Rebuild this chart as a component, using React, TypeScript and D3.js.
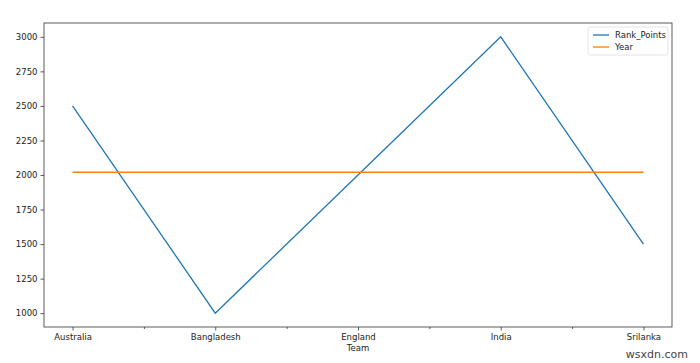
import React, { useEffect, useRef } from 'react';
import * as d3 from 'd3';

const teams = ['Australia', 'Bangladesh', 'England', 'India', 'Srilanka'];
const rankPoints = [2500, 1000, 2000, 3000, 1500];
const years = [2020, 2020, 2020, 2020, 2020];
const yTicks = [1000, 1250, 1500, 1750, 2000, 2250, 2500, 2750, 3000];

const W = 700;
const H = 363;
const margin = { top: 23, right: 28, bottom: 36, left: 44 };

const App: React.FC = () => {
  const svgRef = useRef<SVGSVGElement>(null);

  useEffect(() => {
    if (!svgRef.current) return;
    const svg = d3.select(svgRef.current);
    svg.selectAll('*').remove();

    const w = W - margin.left - margin.right;
    const h = H - margin.top - margin.bottom;
    const font = 'DejaVu Sans, sans-serif';

    const x = d3.scaleLinear().domain([-0.2, teams.length - 1 + 0.2]).range([0, w]);
    const y = d3.scaleLinear().domain([900, 3100]).range([h, 0]);

    const g = svg.append('g').attr('transform', `translate(${margin.left},${margin.top})`);

    // major ticks + labels on the x axis
    const xAxis = g.append('g').attr('transform', `translate(0,${h})`)
      .call(d3.axisBottom(x).tickValues(teams.map((_, i) => i)).tickSize(3.5).tickPadding(3)
        .tickFormat((d) => teams[d as number]));
    // minor ticks at the halves
    g.append('g').attr('transform', `translate(0,${h})`)
      .call(d3.axisBottom(x).tickValues(d3.range(0.5, teams.length - 1, 1)).tickSize(2).tickFormat(() => ''))
      .call((s) => s.select('.domain').remove())
      .call((s) => s.selectAll('line').attr('stroke', '#333').attr('stroke-width', 0.8));

    const yAxis = g.append('g')
      .call(d3.axisLeft(y).tickValues(yTicks).tickSize(3.5).tickPadding(3).tickFormat(d3.format('d')));

    [xAxis, yAxis].forEach((a) => {
      a.select('.domain').remove();
      a.selectAll('text').attr('font-family', font).attr('font-size', 8.5).attr('fill', '#222');
      a.selectAll('line').attr('stroke', '#333').attr('stroke-width', 0.8);
    });

    const line = (vals: number[]) =>
      d3.line<number>().x((_, i) => x(i)).y((d) => y(d))(vals) || '';

    g.append('path').attr('d', line(rankPoints)).attr('fill', 'none')
      .attr('stroke', '#1f77b4').attr('stroke-width', 1.3);
    g.append('path').attr('d', line(years)).attr('fill', 'none')
      .attr('stroke', '#ff7f0e').attr('stroke-width', 1.3);

    // frame
    g.append('rect').attr('width', w).attr('height', h).attr('fill', 'none')
      .attr('stroke', '#333').attr('stroke-width', 0.8);

    g.append('text').attr('x', w / 2).attr('y', h + 24).attr('text-anchor', 'middle')
      .attr('font-family', font).attr('font-size', 8.5).attr('fill', '#222').text('Team');

    // legend
    const lg = g.append('g').attr('transform', `translate(${w - 84},4)`);
    lg.append('rect').attr('width', 80).attr('height', 28).attr('rx', 2)
      .attr('fill', 'white').attr('stroke', '#ddd').attr('stroke-width', 0.8);
    const items = [{ name: 'Rank_Points', color: '#1f77b4' }, { name: 'Year', color: '#ff7f0e' }];
    items.forEach((it, i) => {
      const yy = 8 + i * 12;
      lg.append('line').attr('x1', 5).attr('x2', 21).attr('y1', yy).attr('y2', yy)
        .attr('stroke', it.color).attr('stroke-width', 1.3);
      lg.append('text').attr('x', 27).attr('y', yy + 3).attr('font-family', font)
        .attr('font-size', 8.5).attr('fill', '#222').text(it.name);
    });

    // watermark
    svg.append('text').attr('x', 688).attr('y', 358).attr('text-anchor', 'end')
      .attr('font-family', font).attr('font-size', 11).attr('fill', '#444').text('wsxdn.com');
  }, []);

  return (
    <svg ref={svgRef} width={W} height={H}
      style={{ position: 'absolute', left: 0, top: 0, background: 'white' }} />
  );
};

export default App;
